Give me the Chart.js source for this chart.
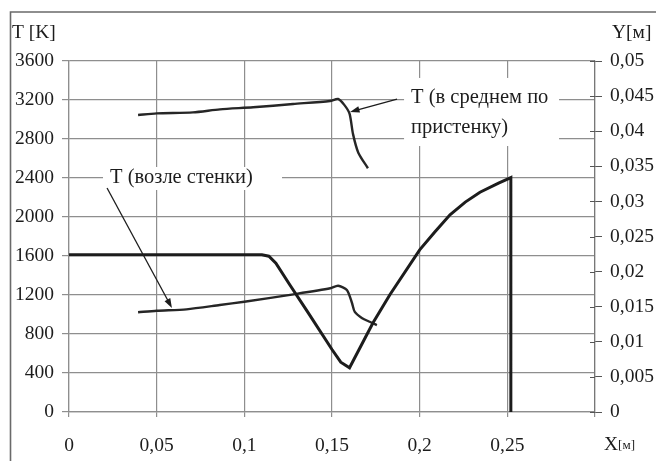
<!DOCTYPE html>
<html>
<head>
<meta charset="utf-8">
<script src="https://cdn.jsdelivr.net/npm/chart.js@4/dist/chart.umd.min.js"></script>
<style>
  html, body { margin: 0; padding: 0; background: #fff; }
  canvas { display: block; }
</style>
</head>
<body>
<canvas id="c" width="656" height="461"></canvas>
<script>
// Контур сопла Y(x), м — правая ось
const profileX = [0, 0.110, 0.114, 0.118, 0.126, 0.136, 0.150, 0.155, 0.160, 0.1734, 0.183, 0.200, 0.2085, 0.2173, 0.226, 0.2344, 0.245, 0.252, 0.252];
const profileY = [0.0224, 0.0224, 0.0222, 0.0212, 0.0181, 0.0143, 0.0089, 0.0071, 0.0063, 0.0127, 0.0167, 0.0231, 0.0256, 0.0281, 0.0299, 0.0313, 0.0326, 0.0334, 0];

// Температура, осреднённая по пристеночному слою, K
const tMeanX = [0.0394, 0.050, 0.0707, 0.0861, 0.105, 0.1278, 0.1489, 0.1535, 0.157, 0.160, 0.162, 0.165, 0.1705];
const tMeanT = [3046, 3063, 3073, 3104, 3125, 3159, 3190, 3210, 3150, 3060, 2850, 2660, 2500];

// Температура у стенки, K
const tWallX = [0.0394, 0.050, 0.067, 0.086, 0.100, 0.128, 0.149, 0.1535, 0.1585, 0.1614, 0.163, 0.167, 0.1705, 0.1756];
const tWallT = [1023, 1039, 1053, 1097, 1131, 1207, 1269, 1295, 1251, 1118, 1026, 964, 933, 892];

// Оси
const xRange = [0, 0.3], xStep = 0.05;
const tRange = [0, 3600], tStep = 400;
const yRange = [0, 0.05], yStep = 0.005;

// Подписи
const tAxisTitle = 'T [K]';
const yAxisTitle = 'Y[м]';
const xAxisTitle = ['X', '[м]'];
const labelWall = 'T (возле стенки)';
const labelMean = ['T (в среднем по', 'пристенку)'];

const FONT = '"Liberation Serif", "Times New Roman", serif';
const INK = '#1c1c1c';
const GRID = '#8e8e8e';

const pts = (xs, ys) => xs.map((x, i) => ({ x, y: ys[i] }));
const comma = (v, d) => String(Math.round(v * Math.pow(10, d)) / Math.pow(10, d)).replace('.', ',');

function arrow(ctx, x1, y1, x2, y2) {
  const a = Math.atan2(y2 - y1, x2 - x1), L = 10, W = 0.33;
  ctx.beginPath();
  ctx.moveTo(x1, y1);
  ctx.lineTo(x2 - Math.cos(a) * L * 0.7, y2 - Math.sin(a) * L * 0.7);
  ctx.stroke();
  ctx.beginPath();
  ctx.moveTo(x2, y2);
  ctx.lineTo(x2 - L * Math.cos(a - W), y2 - L * Math.sin(a - W));
  ctx.lineTo(x2 - L * Math.cos(a + W), y2 - L * Math.sin(a + W));
  ctx.closePath();
  ctx.fill();
}

const decor = {
  id: 'decor',
  beforeDraw(chart) {
    const ctx = chart.ctx;
    ctx.save();
    ctx.fillStyle = '#fff';
    ctx.fillRect(0, 0, chart.width, chart.height);
    // рамка
    ctx.strokeStyle = '#6a6a6a';
    ctx.lineWidth = 1.6;
    ctx.beginPath();
    ctx.moveTo(10.5, chart.height);
    ctx.lineTo(10.5, 12);
    ctx.lineTo(chart.width, 12);
    ctx.stroke();
    ctx.restore();
  },
  beforeDatasetsDraw(chart) {
    const { ctx, scales: { x, y } } = chart;
    ctx.save();
    ctx.fillStyle = '#fff';
    // подложки под надписи
    let l = x.getPixelForValue(0.0194), r = x.getPixelForValue(0.1215);
    let t = y.getPixelForValue(2513), b = y.getPixelForValue(2277);
    ctx.fillRect(l, t, r - l, b - t);
    l = x.getPixelForValue(0.1911); r = x.getPixelForValue(0.2795);
    t = y.getPixelForValue(3426); b = y.getPixelForValue(2728);
    ctx.fillRect(l, t, r - l, b - t);
    ctx.restore();
  },
  afterDraw(chart) {
    const { ctx, chartArea, scales: { x, y, y2 } } = chart;
    ctx.save();
    // внутренние засечки правой оси
    ctx.strokeStyle = '#555';
    ctx.lineWidth = 1;
    y2.ticks.forEach(tk => {
      const py = Math.round(y2.getPixelForValue(tk.value)) + 0.5;
      ctx.beginPath();
      ctx.moveTo(chartArea.right - 5, py);
      ctx.lineTo(chartArea.right, py);
      ctx.stroke();
    });

    ctx.fillStyle = INK;
    ctx.font = '19.5px ' + FONT;
    ctx.textBaseline = 'middle';
    ctx.textAlign = 'left';
    ctx.fillText(tAxisTitle, 12, 33);
    ctx.fillText(yAxisTitle, 612, 33);

    // подпись оси x
    const xb = 604, yb = 445;
    ctx.fillText(xAxisTitle[0], xb, yb);
    const w = ctx.measureText(xAxisTitle[0]).width;
    ctx.font = '13px ' + FONT;
    ctx.fillText(xAxisTitle[1], xb + w, yb + 1);

    // надписи кривых
    ctx.font = '20.5px ' + FONT;
    ctx.fillText(labelWall, x.getPixelForValue(0.0234), y.getPixelForValue(2400));
    ctx.fillText(labelMean[0], x.getPixelForValue(0.1951), y.getPixelForValue(3221));
    ctx.fillText(labelMean[1], x.getPixelForValue(0.1951), y.getPixelForValue(2913));

    // стрелки-выноски
    ctx.strokeStyle = INK;
    ctx.lineWidth = 1.3;
    arrow(ctx, x.getPixelForValue(0.0217), y.getPixelForValue(2297),
               x.getPixelForValue(0.0587), y.getPixelForValue(1067));
    arrow(ctx, x.getPixelForValue(0.1871), y.getPixelForValue(3210),
               x.getPixelForValue(0.1603), y.getPixelForValue(3077));
    ctx.restore();
  }
};

const tickFont = { family: FONT, size: 19.5 };

new Chart(document.getElementById('c'), {
  type: 'line',
  data: {
    datasets: [
      {
        data: pts(profileX, profileY), yAxisID: 'y2',
        borderColor: INK, borderWidth: 3, pointRadius: 0, tension: 0
      },
      {
        data: pts(tMeanX, tMeanT), yAxisID: 'y',
        borderColor: '#262626', borderWidth: 2.4, pointRadius: 0, tension: 0.25
      },
      {
        data: pts(tWallX, tWallT), yAxisID: 'y',
        borderColor: '#262626', borderWidth: 2.4, pointRadius: 0, tension: 0.25
      }
    ]
  },
  options: {
    responsive: false,
    animation: false,
    events: [],
    layout: { padding: { top: 61, left: 0, right: 0, bottom: 0 } },
    plugins: { legend: { display: false }, tooltip: { enabled: false } },
    scales: {
      x: {
        type: 'linear', min: xRange[0], max: xRange[1],
        ticks: {
          stepSize: xStep, font: tickFont, color: INK, padding: 17, maxRotation: 0,
          callback: v => (v > xRange[1] - 1e-9 ? '' : comma(v, 3))
        },
        grid: { color: GRID, lineWidth: 1.2, tickLength: 5, tickColor: GRID },
        border: { display: true, color: GRID, width: 1.2 },
        afterFit: s => { s.height = 49; }
      },
      y: {
        position: 'left', min: tRange[0], max: tRange[1],
        ticks: { stepSize: tStep, font: tickFont, color: INK, padding: 8, callback: v => String(v) },
        grid: { color: GRID, lineWidth: 1.2, tickLength: 7, tickColor: GRID },
        border: { display: true, color: GRID, width: 1.2 },
        afterFit: s => { s.width = 69; }
      },
      y2: {
        position: 'right', min: yRange[0], max: yRange[1],
        ticks: {
          stepSize: yStep, font: tickFont, color: INK, padding: 8,
          callback: v => comma(v, 3)
        },
        grid: { drawOnChartArea: false, tickLength: 7, tickColor: '#555', lineWidth: 1 },
        border: { display: true, color: '#777', width: 1.2 },
        afterFit: s => { s.width = 61; }
      }
    }
  },
  plugins: [decor]
});
</script>
</body>
</html>
